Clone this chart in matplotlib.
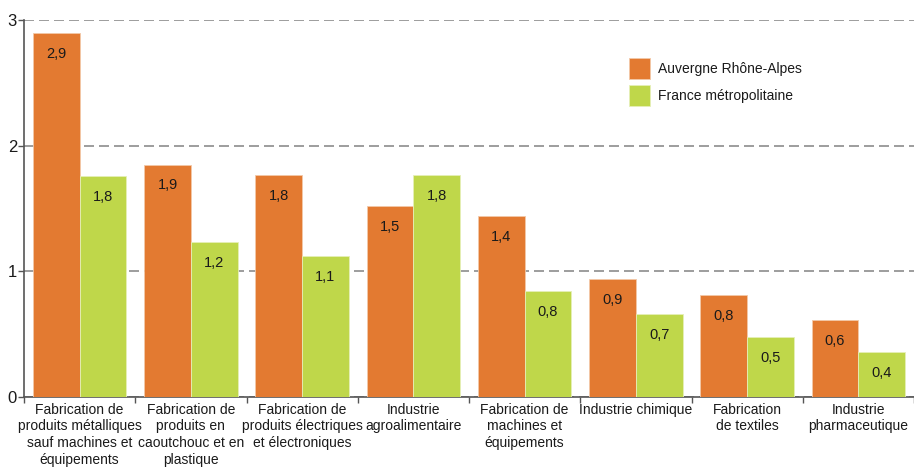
import matplotlib

matplotlib.use("Agg")

import matplotlib.pyplot as plt
import numpy as np

categories = [
    "Fabrication de\nproduits métalliques\nsauf machines et\néquipements",
    "Fabrication de\nproduits en\ncaoutchouc et en\nplastique",
    "Fabrication de\nproduits électriques\net électroniques",
    "Industrie\nagroalimentaire",
    "Fabrication de\nmachines et\néquipements",
    "Industrie chimique",
    "Fabrication\nde textiles",
    "Industrie\npharmaceutique",
]
aura = [2.9, 1.85, 1.77, 1.52, 1.44, 0.94, 0.81, 0.61]
france = [1.76, 1.23, 1.12, 1.77, 0.84, 0.66, 0.48, 0.36]
aura_labels = ["2,9", "1,9", "1,8", "1,5", "1,4", "0,9", "0,8", "0,6"]
france_labels = ["1,8", "1,2", "1,1", "1,8", "0,8", "0,7", "0,5", "0,4"]
series_names = ["Auvergne Rhône-Alpes", "France métropolitaine"]

ORANGE = "#E37A31"
GREEN = "#BFD74A"
TEXT = "#1a1a1a"

plt.rcParams["font.family"] = ["Liberation Sans", "DejaVu Sans"]

fig = plt.figure(figsize=(9.14, 4.70), dpi=100)
ax = fig.add_axes([24 / 914, 73 / 470, 890 / 914, 377 / 470])

x = np.arange(len(categories))
width = 0.42
b1 = ax.bar(x - width / 2, aura, width, color=ORANGE, edgecolor="#f3c9a8", linewidth=0.6,
            label=series_names[0], zorder=3)
b2 = ax.bar(x + width / 2, france, width, color=GREEN, edgecolor="#e6efb8", linewidth=0.6,
            label=series_names[1], zorder=3)

for bars, labels in ((b1, aura_labels), (b2, france_labels)):
    for rect, lab in zip(bars, labels):
        ax.annotate(lab, (rect.get_x() + rect.get_width() / 2, rect.get_height()),
                    xytext=(0, -14), textcoords="offset points", ha="center", va="center_baseline",
                    fontsize=10.5, color=TEXT, zorder=4)

ax.set_xlim(-0.5, len(categories) - 0.5)
ax.set_ylim(0, 3)
ax.set_yticks([0, 1, 2, 3])
ax.yaxis.grid(True, linestyle=(0, (6, 3)), color="#8c8c8c", linewidth=1.2, zorder=1)
ax.set_axisbelow(True)

ax.set_xticks(x)
ax.set_xticklabels(categories, fontsize=10, color=TEXT, linespacing=1.25, va="top")
ax.tick_params(axis="x", length=0, pad=4)
ax.set_xticks(np.arange(-0.5, len(categories)), minor=True)
ax.tick_params(axis="x", which="minor", length=4, color="#555555", width=1)
ax.tick_params(axis="y", length=4, color="#555555", width=1, labelsize=12, labelcolor=TEXT, pad=1)

for side in ("top", "right"):
    ax.spines[side].set_visible(False)
for side in ("left", "bottom"):
    ax.spines[side].set_color("#555555")
    ax.spines[side].set_linewidth(1.2)

ax.legend(loc="upper left", bbox_to_anchor=(0.669, 0.925), frameon=False, fontsize=10,
          handlelength=1.5, handleheight=1.95, handletextpad=0.6, labelspacing=0.43,
          borderpad=0.2, labelcolor=TEXT)

fig.savefig("out.png", dpi=100)
